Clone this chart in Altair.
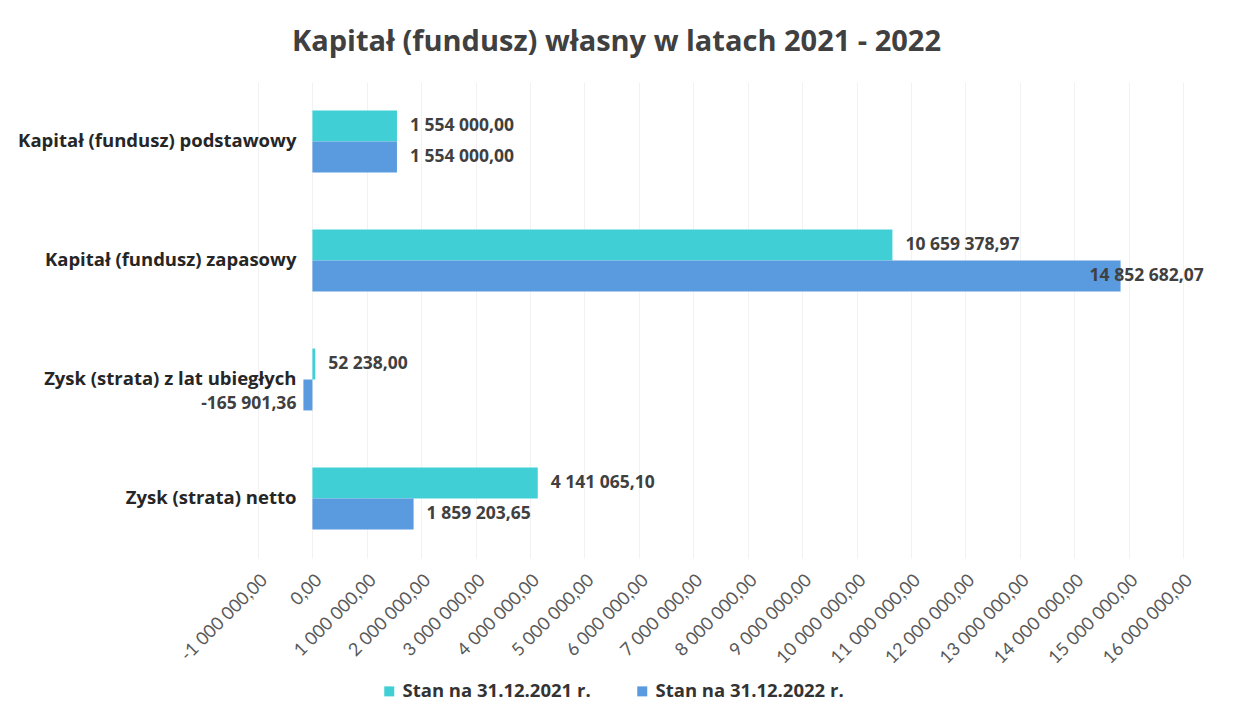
import altair as alt
import pandas as pd

categories = [
    "Kapitał (fundusz) podstawowy",
    "Kapitał (fundusz) zapasowy",
    "Zysk (strata) z lat ubiegłych",
    "Zysk (strata) netto",
]
series = ["Stan na 31.12.2021 r.", "Stan na 31.12.2022 r."]
values_2021 = [1554000.00, 10659378.97, 52238.00, 4141065.10]
values_2022 = [1554000.00, 14852682.07, -165901.36, 1859203.65]
colors = ["#3FCFD5", "#5A9BE0"]
x_ticks = [v * 1000000 for v in range(-1, 17)]

rows = []
for c, v1, v2 in zip(categories, values_2021, values_2022):
    rows.append(dict(cat=c, ser=series[0], val=v1))
    rows.append(dict(cat=c, ser=series[1], val=v2))
df = pd.DataFrame(rows)
df["label"] = df["val"].map(lambda v: f"{v:,.2f}".replace(",", " ").replace(".", ","))
cat_df = pd.DataFrame({"cat": categories})

BFONT = "Open Sans"
TFONT = "Lato"

y_enc = alt.Y("cat:N", sort=categories, axis=None,
              scale=alt.Scale(paddingInner=0.48, paddingOuter=0.24))
yoff_enc = alt.YOffset("ser:N", sort=series)
x_enc = alt.X(
    "val:Q",
    title=None,
    scale=alt.Scale(domain=[-1000000, 16000000], nice=False, zero=False),
    axis=alt.Axis(
        values=x_ticks,
        labelExpr="replace(replace(replace(format(datum.value, ',.2f'), regexp(',', 'g'), ' '), '.', ','), '\u2212', '-')",
        labelAngle=-45,
        labelAlign="right",
        labelBaseline="top",
        labelPadding=13,
        labelFont=TFONT,
        labelFontSize=18,
        labelColor="#595959",
        domain=False,
        ticks=False,
        grid=True,
        gridColor="#F2F2F2",
        labelOverlap=False,
    ),
)

base = alt.Chart(df)

bars = base.mark_bar().encode(
    x=x_enc,
    y=y_enc,
    yOffset=yoff_enc,
    color=alt.Color(
        "ser:N",
        scale=alt.Scale(domain=series, range=colors),
        legend=alt.Legend(
            orient="none",
            legendX=122,
            legendY=600,
            direction="horizontal",
            title=None,
            symbolType="square",
            symbolSize=100,
            symbolStrokeWidth=0,
            labelFont=BFONT,
            labelFontSize=18.5,
            labelFontWeight="bold",
            labelColor="#333333",
            labelLimit=0,
            columnPadding=42,
        ),
    ),
)

lbl_style = dict(font=BFONT, fontSize=17.5, fontWeight="bold", color="#404040", baseline="middle")

pos_labels = base.transform_filter("datum.val >= 0 && datum.val < 14000000").mark_text(
    align="left", dx=13, **lbl_style
).encode(x="val:Q", y=y_enc, yOffset=yoff_enc, text="label:N")

big_labels = base.transform_filter("datum.val >= 14000000").mark_text(
    align="left", dx=-31, **lbl_style
).encode(x="val:Q", y=y_enc, yOffset=yoff_enc, text="label:N")

neg_labels = base.transform_filter("datum.val < 0").mark_text(
    align="right", dx=-7, dy=9, **lbl_style
).encode(x="val:Q", y=y_enc, yOffset=yoff_enc, text="label:N")

cat_labels = alt.Chart(cat_df).mark_text(
    align="right", dx=-16, dy=-1, font=BFONT, fontSize=18.5, fontWeight="bold",
    color="#262626", baseline="middle"
).encode(x=alt.datum(0), y=y_enc, text="cat:N")

chart = alt.layer(bars, pos_labels, big_labels, neg_labels, cat_labels).properties(
    width=925,
    height=476,
    autosize=alt.AutoSizeParams(type="none"),
    padding={"left": 250, "top": 74, "right": 45, "bottom": 150},
    title=alt.Title(
        "Kapitał (fundusz) własny w latach 2021 - 2022",
        font=BFONT,
        fontSize=29,
        fontWeight="bold",
        color="#404040",
        anchor="middle",
        dx=-104,
        offset=25,
    ),
).configure_view(stroke=None)

chart.save("out.html", embed_options={"renderer": "svg", "actions": False})
